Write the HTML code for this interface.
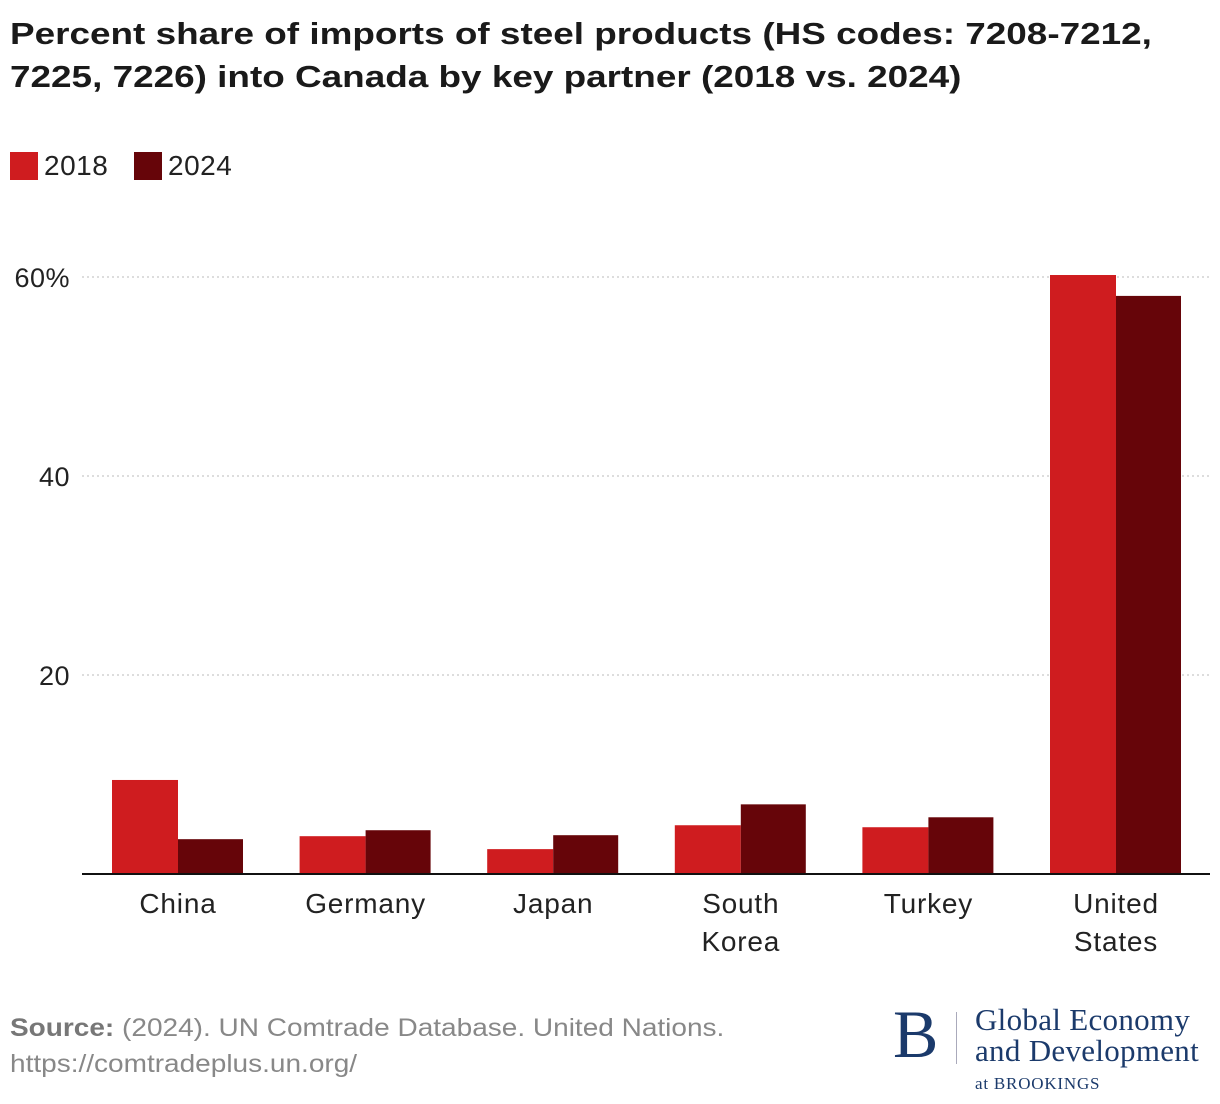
<!DOCTYPE html>
<html><head><meta charset="utf-8"><style>
body{margin:0;width:1220px;height:1104px;background:#fff;font-family:"Liberation Sans",sans-serif;position:relative;overflow:hidden}
.t{position:absolute;left:10px;top:12px;font-size:31px;font-weight:bold;color:#1a1a1a;line-height:43px;transform:scaleX(1.19);transform-origin:left top;white-space:nowrap}
.lg{position:absolute;top:150px;font-size:28px;color:#222;display:flex;align-items:center;letter-spacing:0.5px}
.sw{width:28px;height:28px;margin-right:6px}
.src{position:absolute;left:10px;top:1010px;font-size:25px;color:#888;line-height:36px;transform:scaleX(1.12);transform-origin:left top;white-space:nowrap}
</style></head><body>
<div class="t">Percent share of imports of steel products (HS codes: 7208-7212,<br>7225, 7226) into Canada by key partner (2018 vs. 2024)</div>
<div class="lg" style="left:10px"><div class="sw" style="background:#cf1c1f"></div>2018</div>
<div class="lg" style="left:134px"><div class="sw" style="background:#660509"></div>2024</div>
<svg id="c" width="1220" height="1104" style="position:absolute;left:0;top:0"></svg>
<div class="src"><b style="color:#777">Source:</b> (2024). UN Comtrade Database. United Nations.<br>https://comtradeplus.un.org/</div>
<div style="position:absolute;left:893px;top:1004px;color:#1b3a6b;font-family:'Liberation Serif',serif">
<div style="position:absolute;left:0;top:-4px;font-size:68px;line-height:68px">B</div>
<div style="position:absolute;left:63px;top:8px;width:1px;height:52px;background:#aab"></div>
<div style="position:absolute;left:82px;top:0;font-size:31px;line-height:31px;white-space:nowrap;letter-spacing:0.3px">Global Economy<br>and Development</div>
<div style="position:absolute;left:82px;top:70px;font-size:17px;white-space:nowrap;letter-spacing:0.8px">at BROOKINGS</div>
</div>
<script>
const categories=["China","Germany","Japan","South|Korea","Turkey","United|States"];
const v2018=[9.45,3.8,2.5,4.9,4.7,60.2];
const v2024=[3.5,4.4,3.9,7.0,5.7,58.1];
const ticks=[20,40,60];
const tickLabels=["20","40","60%"];
const svg=document.getElementById('c');const NS='http://www.w3.org/2000/svg';
const y=v=>874-v*9.95;const cx=i=>178+i*187.6;
function mk(t,a){const e=document.createElementNS(NS,t);for(const k in a)e.setAttribute(k,a[k]);svg.appendChild(e);return e;}
ticks.forEach((t,i)=>{
const g=mk('line',{x1:82,x2:1210,y1:y(t),y2:y(t),stroke:'#bbb','stroke-dasharray':'2,3'});


const l=mk('text',{x:70,y:y(t)+10,'text-anchor':'end','font-size':27,'letter-spacing':0.5,fill:'#222','font-family':'Liberation Sans'});
l.textContent=tickLabels[i];


});
categories.forEach((c,i)=>{
const a=mk('rect',{x:cx(i)-66,y:y(v2018[i]),width:66,height:874-y(v2018[i]),fill:'#cf1c1f'});


const b=mk('rect',{x:cx(i),y:y(v2024[i]),width:65,height:874-y(v2024[i]),fill:'#660509'});


c.split('|').forEach((s,j)=>{
const t=mk('text',{x:cx(i),y:913+j*38,'text-anchor':'middle','font-size':28,'letter-spacing':0.8,fill:'#222','font-family':'Liberation Sans'});
t.textContent=s;


});
});
const ax=mk('line',{x1:82,x2:1210,y1:874,y2:874,stroke:'#111','stroke-width':2});


</script>
</body></html>
